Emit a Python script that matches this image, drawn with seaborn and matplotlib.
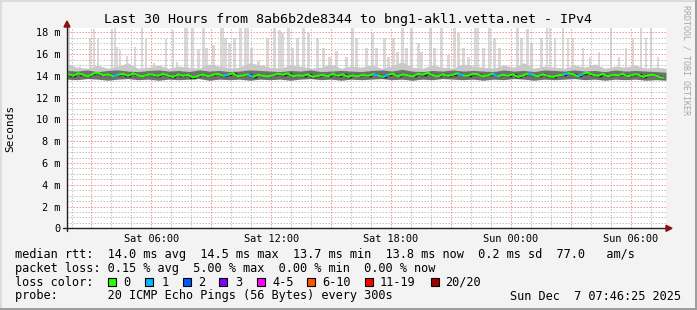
import numpy as np
import pandas as pd
import matplotlib
matplotlib.use("Agg")
import matplotlib.pyplot as plt
import seaborn as sns
from matplotlib.patches import Rectangle, Polygon
from matplotlib.lines import Line2D
from matplotlib.transforms import IdentityTransform

# ---------------- data ----------------
title = "Last 30 Hours from 8ab6b2de8344 to bng1-akl1.vetta.net - IPv4"
start_time = "2025-12-06 01:46:25"
end_time = "2025-12-07 07:46:25"

# median rtt (ms), 15-minute samples
median_a = [14.2, 14.0, 14.25, 14.1, 13.95, 14.2, 14.3, 14.05, 14.15, 13.95,
            14.1, 14.2, 14.0, 14.25, 14.05, 13.95, 14.15, 14.1, 14.0, 14.2,
            14.05, 13.9, 14.15, 14.0, 14.1, 13.85, 14.0, 14.15, 13.95, 14.1,
            14.2, 14.0, 14.1, 14.25, 13.95, 14.05, 14.15, 13.9, 14.1, 14.0]
median_b = [13.95, 14.05, 14.2, 14.1, 14.25, 13.95, 14.05, 14.0, 14.15, 13.9,
            14.0, 14.1, 13.95, 14.2, 14.0, 14.15, 13.9, 14.05, 13.95, 14.1,
            14.0, 14.15, 14.05, 13.9, 14.1, 14.2, 13.95, 14.15, 14.05, 13.95,
            14.2, 14.1, 14.3, 14.05, 13.95, 14.15, 14.0, 14.1, 14.25, 14.05]
median_c = [14.0, 14.2, 14.15, 13.95, 14.05, 14.2, 13.95, 14.1, 14.0, 14.15,
            13.9, 14.05, 14.2, 14.1, 13.95, 14.15, 14.0, 13.9, 14.05, 14.1,
            14.25, 14.15, 13.95, 14.2, 14.3, 14.1, 14.0, 14.2, 13.95, 14.1,
            14.05, 14.2, 13.95, 14.1, 14.15, 13.9, 14.05, 14.1, 13.95, 13.8]
# samples (15-min index) with 1 of 20 pings lost
loss1_idx = [9, 31, 36, 61, 63, 78, 85, 92, 99, 102]

# smoke envelopes (ms), 30-minute samples
ping_lo = [13.7, 13.65, 13.75, 13.7, 13.6, 13.7, 13.75, 13.65, 13.7, 13.6,
           13.7, 13.65, 13.7, 13.75, 13.6, 13.7, 13.65, 13.7, 13.6, 13.7,
           13.65, 13.7, 13.6, 13.7, 13.75, 13.65, 13.7, 13.6, 13.7, 13.65,
           13.7, 13.75, 13.65, 13.7, 13.6, 13.7, 13.65, 13.75, 13.7, 13.65,
           13.7, 13.6, 13.7, 13.65, 13.75, 13.7, 13.6, 13.7, 13.65, 13.7,
           13.75, 13.65, 13.7, 13.6, 13.7, 13.65, 13.7, 13.6, 13.65, 13.6]
ping_q3 = [14.5, 14.45, 14.55, 14.4, 14.5, 14.55, 14.45, 14.4, 14.5, 14.55,
           14.45, 14.5, 14.4, 14.55, 14.45, 14.5, 14.4, 14.45, 14.55, 14.5,
           14.45, 14.4, 14.5, 14.45, 14.55, 14.4, 14.45, 14.5, 14.45, 14.4,
           14.5, 14.55, 14.45, 14.6, 14.45, 14.4, 14.5, 14.45, 14.55, 14.45,
           14.5, 14.45, 14.4, 14.55, 14.45, 14.5, 14.4, 14.55, 14.5, 14.45,
           14.55, 14.45, 14.5, 14.4, 14.55, 14.45, 14.5, 14.45, 14.4, 14.35]
ping_p90 = [15.1, 14.8, 14.7, 15.0, 14.7, 14.9, 15.2, 14.7, 14.8, 15.0,
            14.7, 14.9, 14.8, 14.7, 15.1, 14.9, 14.7, 14.8, 15.2, 15.0,
            14.8, 14.7, 15.0, 14.9, 14.7, 14.8, 15.1, 14.7, 14.9, 14.8,
            15.0, 14.7, 14.9, 15.3, 14.8, 14.7, 15.0, 14.8, 14.7, 15.1,
            14.9, 14.8, 14.7, 15.0, 14.8, 15.2, 14.7, 14.9, 14.8, 14.7,
            15.0, 14.8, 15.1, 14.7, 14.9, 14.8, 15.0, 14.7, 14.8, 14.7]

# max-ping spikes: hours after start, top value (ms)
spike_hours = [0.1, 0.65, 1.15, 1.35, 1.55, 2.25, 2.4, 2.47, 2.65, 3.0, 3.4, 3.75,
               3.95, 4.35, 4.65, 4.95, 5.3, 5.5, 5.9, 6.0, 6.3, 6.58, 6.85, 7.0,
               7.35, 7.75, 7.8, 7.95, 8.15, 8.4, 8.7, 8.95, 9.05, 9.25, 9.6, 9.85,
               10.05, 10.4, 10.65, 10.8, 11.1, 11.3, 11.55, 11.85, 12.1, 12.55, 12.85,
               13.15, 13.5, 14.0, 14.3, 14.5, 15.0, 15.3, 15.5, 15.9, 16.1, 16.35,
               16.55, 16.8, 17.0, 17.25, 17.6, 17.75, 18.2, 18.4, 18.75, 19.1, 19.4,
               19.6, 19.85,
               20.1, 20.45, 20.58, 20.85, 21.15, 21.4, 21.65, 22.55, 22.75, 23.05,
               23.25, 23.75, 24.05, 24.2, 24.45, 24.85, 25.1, 25.35, 25.85, 26.2,
               26.65, 27.25, 27.65, 28.0, 28.35, 28.75, 29.0, 29.25, 29.6]
spike_tops = [18.6, 14.9, 17.5, 18.3, 17.5, 18.3, 18.6, 16.7, 16.4, 15.8, 16.7, 18.6,
              17.5, 15.2, 14.9, 17.4, 18.2, 15.3, 18.6, 18.6, 18.6, 16.5, 18.6, 16.6,
              16.8, 18.6, 18.6, 17.5, 17.0, 17.5, 18.6, 18.6, 18.6, 16.6, 15.4, 15.0,
              17.5, 18.6, 18.2, 17.9, 18.6, 16.6, 17.5, 18.6, 17.9, 17.5, 16.6,
              15.7, 16.3, 15.7, 18.6, 17.5, 16.6, 17.9, 16.6, 17.5, 15.7, 17.5,
              16.2, 18.6, 16.6, 18.6, 17.0, 16.2, 18.6, 16.6, 18.6, 15.9, 18.6,
              17.9, 16.6,
              15.7, 18.6, 18.6, 16.6, 18.6, 17.5, 16.6, 18.6, 17.5, 18.3,
              17.0, 17.5, 18.6, 18.6, 17.5, 18.6, 17.5, 17.5, 16.6, 15.7,
              16.2, 18.6, 15.7, 16.6, 17.5, 18.6, 17.5, 18.6, 15.7]

y_ticks = [0, 2, 4, 6, 8, 10, 12, 14, 16, 18]
y_tick_labels = ["0", "2 m", "4 m", "6 m", "8 m", "10 m", "12 m", "14 m", "16 m", "18 m"]

loss_labels = ["0", "1", "2", "3", "4-5", "6-10", "11-19", "20/20"]
loss_colors = ["#26ff00", "#00b8ff", "#0059ff", "#7e00ff", "#ff00ff", "#ff5500", "#ff0000", "#a10000"]

line_rtt = "median rtt:  14.0 ms avg  14.5 ms max  13.7 ms min  13.8 ms now  0.2 ms sd  77.0   am/s"
line_loss = "packet loss: 0.15 % avg  5.00 % max  0.00 % min  0.00 % now"
line_color = "loss color:"
line_probe = "probe:       20 ICMP Echo Pings (56 Bytes) every 300s"
date_text = "Sun Dec  7 07:46:25 2025"
watermark = "RRDTOOL / TOBI OETIKER"

# ---------------- setup ----------------
sns.set_theme(style="white")
plt.rcParams['font.family'] = ['DejaVu Sans Mono', 'DejaVu Sans']

W, H = 697, 310
BG = "#f3f3f3"
fig = plt.figure(figsize=(W / 100, H / 100), dpi=100, facecolor=BG)
L, R, B, T = 67, 666, 228.3, 28.0
ax = fig.add_axes([L / W, 1 - B / H, (R - L) / W, (B - T) / H])
ax.set_facecolor("white")

t0 = pd.Timestamp(start_time)
t1 = pd.Timestamp(end_time)
hr = pd.Timedelta(hours=1)
span_h = (t1 - t0) / hr

median = np.array(median_a + median_b + median_c)
mx = np.linspace(0.05, 29.85, len(median))
sx = np.linspace(0.0, span_h, len(ping_lo))

ax.set_xlim(0, span_h)
ax.set_ylim(0, 18.4)

# spikes (light smoke)
ax.bar(spike_hours, np.array(spike_tops) - 14.3, bottom=14.3, width=0.13,
       color="#d9d9d9", linewidth=0, zorder=1)

# grid (drawn manually, dotted)
minor_t = pd.date_range("2025-12-06 02:00", t1, freq="1h")
major_t = pd.date_range("2025-12-06 03:00", t1, freq="3h")
minor_x = [(t - t0) / hr for t in minor_t if t.hour % 3 != 0]
major_x = [(t - t0) / hr for t in major_t]
major_lab = [t.strftime("%a %H:%M") if t.hour % 6 == 0 else "" for t in major_t]
dots = (0, (1.5, 1.5))
gmin = dict(color="#c4c4c4", linestyle=dots, linewidth=0.72, zorder=1.5)
gmaj = dict(color="#ff9494", linestyle=dots, linewidth=0.72, zorder=1.6)
for xv in minor_x:
    ax.axvline(xv, **gmin)
for xv in major_x:
    ax.axvline(xv, **gmaj)
for yv in np.arange(0.5, 18.4, 0.5):
    if yv % 2 != 0:
        ax.axhline(yv, **gmin)
for yv in y_ticks[1:]:
    ax.axhline(yv, **gmaj)

# smoke bands
ax.fill_between(sx, ping_q3, ping_p90, color="#c8c8c8", linewidth=0, zorder=2)
ax.fill_between(sx, ping_lo, ping_q3, color="#6f6f6f", linewidth=0, zorder=2)

# median line
df = pd.DataFrame({"h": mx, "median": median})
ax.plot(mx, median, color="#111111", lw=1.0, drawstyle="steps-mid", zorder=4)
sns.lineplot(data=df, x="h", y="median", color=loss_colors[0], lw=1.5, ax=ax, zorder=5)
for i in loss1_idx:
    ax.plot(mx[i:i + 2], median[i:i + 2], color=loss_colors[1], lw=1.5, zorder=6,
            solid_capstyle="butt")

# ticks
ax.set_xticks(major_x)
ax.set_xticklabels(major_lab)
ax.set_xticks(minor_x, minor=True)
ax.set_yticks(y_ticks)
ax.set_yticklabels(y_tick_labels)
ax.set_xlabel("")
ax.set_ylabel("")
for s in ax.spines.values():
    s.set_visible(False)
ax.grid(False)
ax.tick_params(axis="both", which="both", labelsize=7.4, color="#444444", labelcolor="black")
ax.tick_params(axis="x", which="major", length=3, width=0.7, direction="inout", pad=2.5)
ax.tick_params(axis="x", which="minor", length=1.5, width=0.7, direction="inout")
ax.tick_params(axis="y", which="major", length=3, width=0.7, direction="inout", pad=3.5)

# axes lines and arrows (pixel coords -> axes fraction)
def fx(px):
    return (px - L) / (R - L)

def fy(py):
    return (B - py) / (B - T)

axis_col = "#222222"
arrow_col = "#8b1010"
ax.add_line(Line2D([fx(63), fx(667)], [0, 0], transform=ax.transAxes, color=axis_col,
                   lw=1.0, clip_on=False, zorder=8))
ax.add_line(Line2D([0, 0], [fy(231), fy(26)], transform=ax.transAxes, color=axis_col,
                   lw=1.0, clip_on=False, zorder=8))
ax.add_patch(Polygon([[fx(672), fy(228.3)], [fx(666), fy(225.3)], [fx(666), fy(231.3)]],
                     closed=True, transform=ax.transAxes, color=arrow_col, clip_on=False, zorder=9))
ax.add_patch(Polygon([[fx(67), fy(21)], [fx(64), fy(27)], [fx(70), fy(27)]],
                     closed=True, transform=ax.transAxes, color=arrow_col, clip_on=False, zorder=9))

# ---------------- texts ----------------
ID = IdentityTransform()
LEG = 8.53

def ftext(x, y, s, **kw):
    kw.setdefault("fontsize", LEG)
    kw.setdefault("va", "center")
    kw.setdefault("ha", "left")
    fig.text(x, H - y, s, transform=ID, color=kw.pop("color", "black"), **kw)

ftext(348.5, 19.5, title, ha="center", fontsize=9.6)
ftext(10, 128, "Seconds", ha="center", rotation=90, fontsize=8)
ftext(686, 60, watermark, ha="center", rotation=270, fontsize=6, color="#a8a8a8")

ftext(15.2, 254.5, line_rtt)
ftext(15.2, 268.7, line_loss)
ftext(15.2, 282.3, line_color)
box_x = [108, 145.3, 182.7, 219.3, 256.7, 307.3, 365, 430.7]
lab_x = [124, 161.7, 198.7, 236, 272.7, 322.7, 380, 445.7]
for bx, lx, lab, col in zip(box_x, lab_x, loss_labels, loss_colors):
    fig.add_artist(Rectangle((bx, H - 286), 8, 8, transform=ID, facecolor=col,
                             edgecolor="black", linewidth=0.8))
    ftext(lx - 0.6, 282.3, lab)
ftext(15.2, 296, line_probe)
ftext(680.5, 296, date_text, ha="right")

# frame shading
fig.add_artist(Rectangle((0, H - 2), W, 2, transform=ID, facecolor="#dcdcdc", lw=0))
fig.add_artist(Rectangle((0, 0), 2, H, transform=ID, facecolor="#dcdcdc", lw=0))
fig.add_artist(Rectangle((W - 2, 0), 2, H, transform=ID, facecolor="#9e9e9e", lw=0))
fig.add_artist(Rectangle((0, 0), W, 2, transform=ID, facecolor="#9e9e9e", lw=0))

fig.savefig("out.png", dpi=100, facecolor=BG)
